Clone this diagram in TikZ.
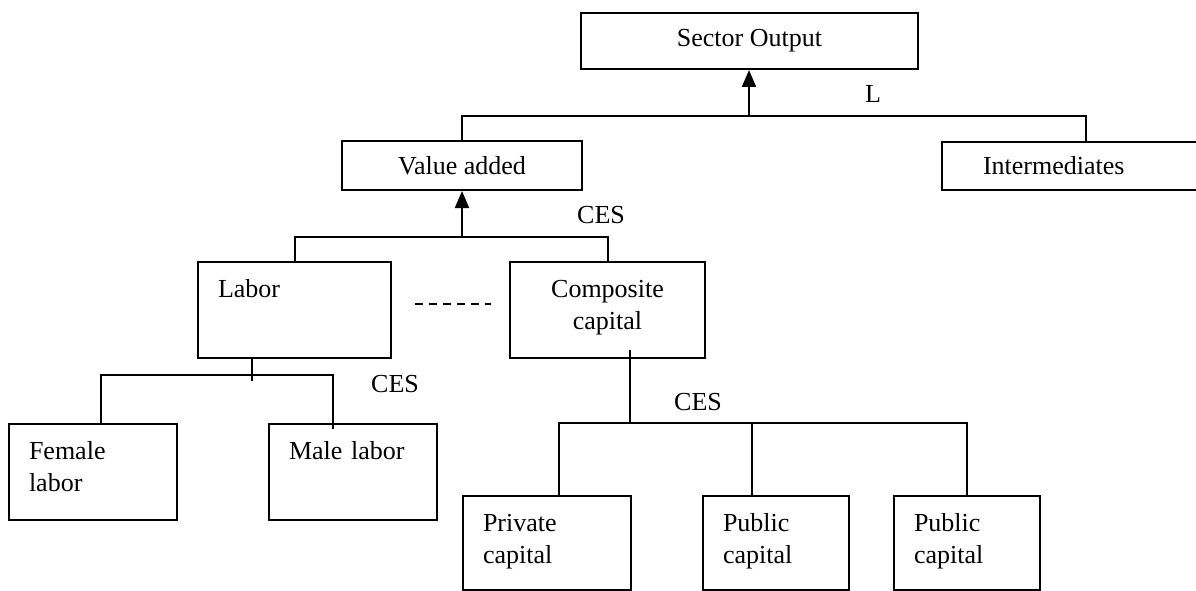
\documentclass[tikz,border=0pt]{standalone}
\usepackage{fontspec}
\setmainfont{Liberation Serif}
\usetikzlibrary{arrows.meta}

\begin{document}
\begin{tikzpicture}[x=1pt, y=1pt, line width=2pt, font=\fontsize{26}{32}\selectfont,
  box/.style = {draw, rectangle, inner sep=0pt},
  cell/.style = {box, anchor=north west, align=left, inner xsep=20pt, text height=35pt, text depth=61pt},
  low/.style = {cell, text depth=59pt},
  tag/.style = {anchor=base, inner sep=0pt},
  arr/.style = {-{Triangle[length=17pt, width=14pt]}},
  dashes/.style = {line width=1.5pt, dash pattern=on 8pt off 6pt}]

\useasboundingbox (0,0) rectangle (1196,-591);
\clip (0,0) rectangle (1196,-591);

\node[box, minimum width=337pt, minimum height=56pt] (out) at (749.5,-41) {Sector Output};
\node[box, minimum width=240pt, minimum height=49pt] (va) at (462,-165.5) {Value added};
\node[box, anchor=north west, minimum height=48pt, text width=177pt, inner xsep=41pt, align=left] (inter) at (941,-141) {Intermediates};

\node[cell, text width=153pt] (lab) at (197,-261) {Labor};
\node[cell, text width=155pt, align=center] (comp) at (509,-261) {Composite\\capital};

\node[cell, text width=128pt] (fem) at (8,-423) {Female\\labor};
\node[cell, text width=128pt] (male) at (268,-423) {Male labor};

\node[low, text width=128pt] (priv) at (462,-495) {Private\\capital};
\node[low, text width=106pt] (pub1) at (702,-495) {Public\\capital};
\node[low, text width=106pt] (pub2) at (893,-495) {Public\\capital};

\node[tag] (l1) at (873,-103) {L};
\node[tag] (c1) at (601,-223) {CES};
\node[tag] (c2) at (395,-392) {CES};
\node[tag] (c3) at (698,-410) {CES};

\coordinate (j1) at (749,-116);
\coordinate (j2) at (462,-237);
\coordinate (j3) at (252,-375);
\coordinate (j4) at (630,-423);
\coordinate (k1) at ([xshift=-24pt]pub1.north);

\draw[arr] (j1) -- (out.south -| j1);
\draw (va.north) |- (j1) -| ([xshift=145pt]inter.north west);

\draw[arr] (j2) -- (va.south);
\draw (lab.north) |- (j2) -| (comp.north);
\draw[dashes] ([shift={(23,6)}]lab.east) -- ([shift={(-18,6)}]comp.west);

\draw (lab.south -| j3) -- ([yshift=-6pt]j3);
\draw ([xshift=8pt]fem.north) |- (j3) -| ([xshift=-20pt, yshift=-6pt]male.north);

\draw (comp.south -| j4) ++(0,9) -- (j4);
\draw ([xshift=12pt]priv.north) |- (j4) -| (pub2.north);
\draw (k1) -- (k1 |- j4);

\end{tikzpicture}
\end{document}
